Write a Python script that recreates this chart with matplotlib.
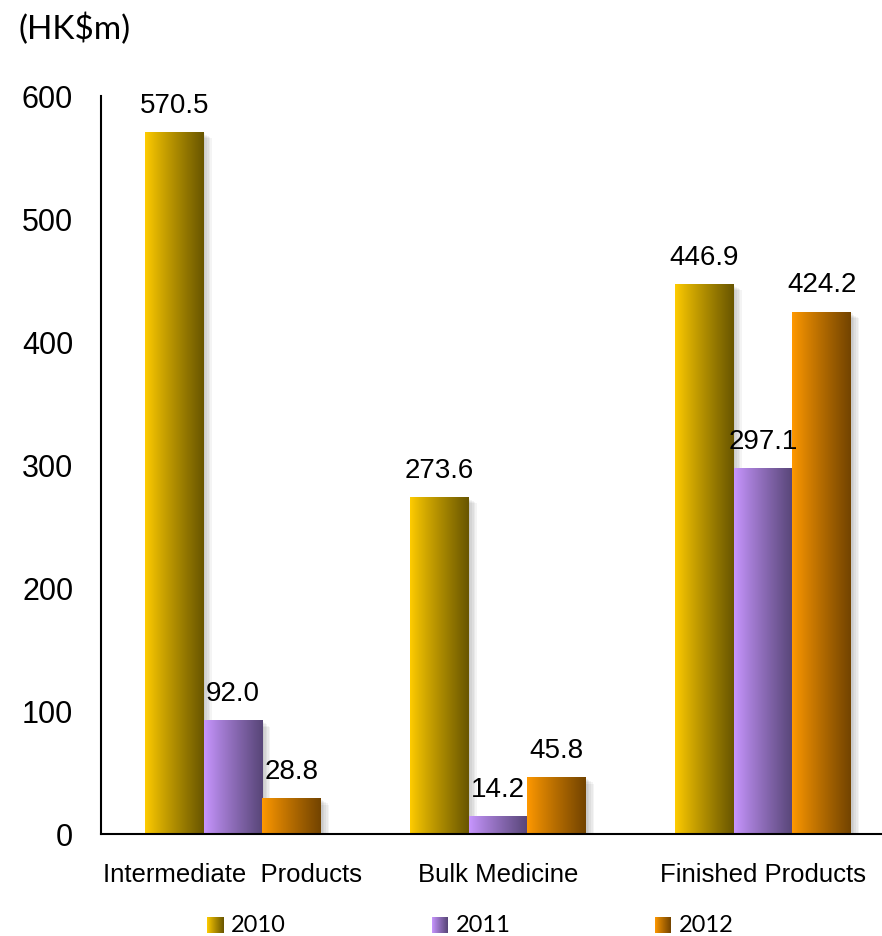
import matplotlib.pyplot as plt
import numpy as np
from matplotlib.patches import Rectangle

categories = ["Intermediate  Products", "Bulk Medicine", "Finished Products"]
years = ["2010", "2011", "2012"]
v2010 = [570.5, 273.6, 446.9]
v2011 = [92.0, 14.2, 297.1]
v2012 = [28.8, 45.8, 424.2]
series = [v2010, v2011, v2012]

# left / right colours of the horizontal gradient for each year
grad = [((255, 204, 0), (105, 86, 0)),
        ((200, 150, 255), (88, 70, 120)),
        ((255, 153, 0), (115, 68, 0))]

W, H = 882, 937
fig = plt.figure(figsize=(W / 100, H / 100), dpi=100)
ax = fig.add_axes([101 / W, 1 - 835 / H, 1 - 101 / W, (835 - 97) / H])

xlim = (-0.498, 2.449)
ylim = (0, 600)
bw = 0.222
offs = [-0.221, 0.0, 0.222]
px_x = 265.0  # pixels per category unit
px_y = 738 / 600.0


def gradient_img(c1, c2, n=64):
    c1 = np.array(c1) / 255.0
    c2 = np.array(c2) / 255.0
    t = np.linspace(0, 1, n) ** 0.9
    row = c1[None, :] * (1 - t[:, None]) + c2[None, :] * t[:, None]
    return row[None, :, :]


x = np.arange(len(categories))
for i, vals in enumerate(series):
    img = gradient_img(*grad[i])
    for j, v in enumerate(vals):
        x0 = x[j] + offs[i] - bw / 2
        x1 = x0 + bw
        # soft shadow on the right
        for k in range(1, 6):
            ax.add_patch(Rectangle((x0 + k * 1.6 / px_x, 0), bw, v - k * 1.2 / px_y,
                                   facecolor="black", edgecolor="none", alpha=0.045, zorder=1))
        ax.imshow(img, extent=(x0, x1, 0, v), aspect="auto", zorder=2 + i * 0.1,
                  interpolation="bilinear")
        ax.annotate(f"{v:.1f}", (x[j] + offs[i], v), xytext=(0, 20), textcoords="offset points",
                    ha="center", va="center", fontsize=20, family="Liberation Sans", zorder=5)

ax.set_xlim(*xlim)
ax.set_ylim(*ylim)
ax.set_xticks(x)
ax.set_xticklabels(categories, fontsize=18.5, family="Liberation Sans")
ax.set_yticks(np.arange(0, 601, 100))
ax.set_yticklabels([str(t) for t in range(0, 601, 100)], fontsize=22, family="Liberation Sans")
ax.tick_params(axis="both", length=0)
ax.tick_params(axis="y", pad=20)
ax.tick_params(axis="x", pad=20)
for s in ["top", "right"]:
    ax.spines[s].set_visible(False)
ax.spines["left"].set_linewidth(1.5)
ax.spines["bottom"].set_linewidth(1.5)
ax.spines["bottom"].set_zorder(6)

fig.text(18 / W, 1 - 29 / H, "(HK$m)", fontsize=24, family="Lato", va="center", ha="left")

# legend
sq = 16
leg_y = 926
sq_x = [207, 432, 655]
for i, yr in enumerate(years):
    lax = fig.add_axes([sq_x[i] / W, 1 - (leg_y + sq / 2) / H, sq / W, sq / H])
    lax.imshow(gradient_img(*grad[i]), aspect="auto", extent=(0, 1, 0, 1))
    lax.axis("off")
    fig.text((sq_x[i] + 24) / W, 1 - leg_y / H, yr, fontsize=17, family="Lato",
             va="center", ha="left")

fig.savefig("out.png", dpi=100)
